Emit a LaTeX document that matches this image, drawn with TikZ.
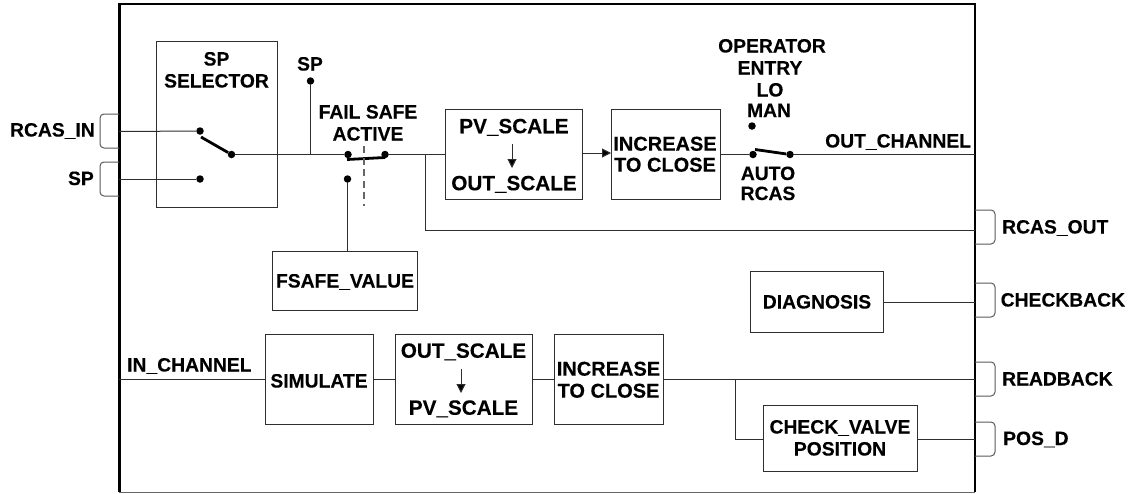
\documentclass[tikz,border=0pt]{standalone}
\usepackage{fontspec}
\setmainfont[BoldFeatures={FakeBold=0.25}]{Liberation Sans}
\usetikzlibrary{arrows.meta}
\definecolor{ln}{gray}{0.18}
\tikzset{
  fs/.style={font=\fontsize{#1}{#1}\selectfont\bfseries},
  lab/.style={fs=19.3,inner sep=0pt,text=black,text height=13pt,text depth=0pt},
  labl/.style={fs=20.7,inner sep=0pt,text=black,text height=13.5pt,text depth=0pt},
  labm/.style={fs=20,inner sep=0pt,text=black,text height=13.3pt,text depth=0pt},
  box/.style={draw=ln,line width=1pt,inner sep=0pt,anchor=north west},
  wire/.style={draw=ln,line width=1pt},
  thickbar/.style={draw=black,line width=2.8pt},
  dot/.style={circle,fill=black,inner sep=0pt,minimum size=7.5pt},
  port/.style={draw=black!65,line width=1pt,rounded corners=4pt},
  tip/.style={-{Triangle[length=9pt,width=9pt,fill=black]}},
}
\begin{document}
\begin{tikzpicture}[x=1pt,y=-1pt]
\useasboundingbox (0,0) rectangle (1144,493);
% frame
\coordinate (ftl) at (119,4); \coordinate (ftr) at (975,4);
\coordinate (fbl) at (119,492); \coordinate (fbr) at (975,492);
\draw[black,line width=2pt] (ftl) -- (ftr);
\draw[black!60,line width=1pt] (fbl) -- (fbr);
\draw[black,line width=3pt] (119,3) -- (fbl);
\draw[black,line width=2.4pt] (975,3) -- (fbr);
% boxes
\node[box,minimum width=121pt,minimum height=166pt] (sel) at (156,41) {};
\node[lab] (selA) at (216.5,59) {SP};
\node[lab] (selB) at (216.5,81) {SELECTOR};
\node[box,minimum width=145pt,minimum height=59pt,lab] (fsafe) at (272,251) {FSAFE\_VALUE};
\node[box,minimum width=137pt,minimum height=90pt] (pv) at (445,109) {};
\node[labl] (pvA) at (514,126.5) {PV\_SCALE};
\node[labl] (pvB) at (514,183.5) {OUT\_SCALE};
\node[box,minimum width=109pt,minimum height=90pt] (inc1) at (611,109) {};
\node[labm] (inc1A) at (665,144) {INCREASE};
\node[labm] (inc1B) at (665,165) {TO CLOSE};
\node[box,minimum width=133pt,minimum height=61pt,lab] (diag) at (750,271) {DIAGNOSIS};
\node[box,minimum width=108pt,minimum height=90pt] (sim) at (265,334) {};
\node[lab] (simT) at (319,381) {SIMULATE};
\node[box,minimum width=137pt,minimum height=90pt] (out) at (395,334) {};
\node[labl] (outA) at (463.5,351) {OUT\_SCALE};
\node[labl] (outB) at (463.5,408) {PV\_SCALE};
\node[box,minimum width=109pt,minimum height=90pt] (inc2) at (554,334) {};
\node[labm] (inc2A) at (608.5,369) {INCREASE};
\node[labm] (inc2B) at (608.5,391) {TO CLOSE};
\node[box,minimum width=154pt,minimum height=66pt] (chk) at (763,405) {};
\node[lab] (chkA) at (840,427) {CHECK\_VALVE};
\node[lab] (chkB) at (840,449) {POSITION};
% dots
\node[dot] (d1) at (200,131) {};
\node[dot] (d2) at (231.5,154.5) {};
\node[dot] (d3) at (200,179) {};
\node[dot] (d4) at (310.5,81) {};
\node[dot] (d5) at (348,154.5) {};
\node[dot] (d6) at (385,154.5) {};
\node[dot] (d7) at (347.5,179) {};
\node[dot] (d8) at (753,154.5) {};
\node[dot] (d9) at (790,154.5) {};
\node[dot] (d10) at (752,126) {};
% free coordinates
\coordinate (j1) at (310.5,154.5);
\coordinate (j2) at (425.5,154.5);
\coordinate (j3) at (425.5,230.5);
\coordinate (pR1) at (975,230.5);
\coordinate (pR2) at (975,302.5);
\coordinate (pR3) at (975,379.5);
\coordinate (pR4) at (975,439.5);
\coordinate (pO) at (975,154.5);
\coordinate (pL1) at (119,131.5);
\coordinate (pL2) at (119,179);
\coordinate (pI) at (119,379.5);
\coordinate (j4) at (735.5,379.5);
\coordinate (j5) at (735.5,439.5);
% wires
\draw[wire] (pL1) -- (d1);
\draw[wire] (pL2) -- (d3);
\draw[wire] (d2) -- (d5);
\draw[wire] (d4) -- (j1);
\draw[wire] (d6) -- (pv.west |- d6);
\draw[wire] (j2) -- (j3) -- (pR1);
\draw[wire] (d7) -- (fsafe.north -| d7);
\draw[wire,tip] (pv.east |- 0,153) -- (inc1.west |- 0,153);
\draw[wire] (inc1.east |- d8) -- (d8);
\draw[wire] (d9) -- (pO);
\draw[wire] (diag.east |- pR2) -- (pR2);
\draw[wire] (pI) -- (sim.west |- pI);
\draw[wire] (sim.east |- pI) -- (out.west |- pI);
\draw[wire] (out.east |- pI) -- (inc2.west |- pI);
\draw[wire] (inc2.east |- pR3) -- (pR3);
\draw[wire] (j4) -- (j5) -- (chk.west |- j5);
\draw[wire] (chk.east |- pR4) -- (pR4);
\coordinate (a1s) at (512,144); \coordinate (a1e) at (512,168);
\coordinate (a2s) at (461,369); \coordinate (a2e) at (461,393);
\draw[wire,tip] (a1s) -- (a1e);
\draw[wire,tip] (a2s) -- (a2e);
% switch levers
\draw[thickbar] (201,137) -- (d2);
\draw[thickbar] (347,159.5) -- (385,157.5);
\draw[thickbar] (755,149.5) -- (d9);
\draw[black!60,line width=1.1pt,dash pattern=on 7pt off 4.5pt] (364,146) -- (364,206);
% ports
\draw[port] (119,114) -| (100,148) -- (119,148);
\draw[port] (119,162) -| (100,196) -- (119,196);
\draw[port] (975,210) -| (995,244) -- (975,244);
\draw[port] (975,283) -| (995,317) -- (975,317);
\draw[port] (975,362) -| (995,396) -- (975,396);
\draw[port] (975,422) -| (995,456) -- (975,456);
% labels
\node[lab,anchor=east] (tRI) at (95,130) {RCAS\_IN};
\node[lab,anchor=east] (tSP) at (94,178.5) {SP};
\node[lab] (tSP2) at (310,64) {SP};
\node[lab] (tF1) at (368,112) {FAIL SAFE};
\node[lab] (tF2) at (368,134) {ACTIVE};
\node[lab] (tO1) at (772,46) {OPERATOR};
\node[lab] (tO2) at (770,68) {ENTRY};
\node[lab] (tO3) at (770,90) {LO};
\node[lab] (tO4) at (769,110.5) {MAN};
\node[lab] (tA1) at (768,173.5) {AUTO};
\node[lab] (tA2) at (768,193.5) {RCAS};
\node[lab,anchor=west] (tOC) at (825,141) {OUT\_CHANNEL};
\node[lab,anchor=west] (tIC) at (127,365) {IN\_CHANNEL};
\node[lab,anchor=west] (tRO) at (1002,227) {RCAS\_OUT};
\node[lab,anchor=west] (tCB) at (1000.5,300) {CHECKBACK};
\node[lab,anchor=west] (tRB) at (1002,379) {READBACK};
\node[lab,anchor=west] (tPD) at (1003,438.5) {POS\_D};
\end{tikzpicture}
\end{document}
